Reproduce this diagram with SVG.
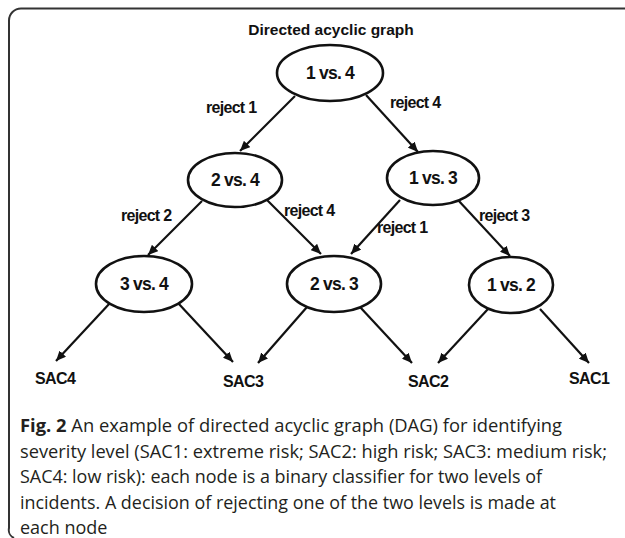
<svg xmlns="http://www.w3.org/2000/svg" width="625" height="538" viewBox="0 0 625 538">
  <defs>
    <marker id="arrow" markerUnits="userSpaceOnUse" markerWidth="11" markerHeight="9" refX="10" refY="4.5" orient="auto">
      <path d="M0,0 L10,4.5 L0,9 z" fill="#111"/>
    </marker>
    <style>
      .frame { fill: none; stroke: #333; stroke-width: 2; }
      .node ellipse { fill: #fff; stroke: #111; stroke-width: 2.6; }
      .node text { font-family: "Liberation Sans", Arial, sans-serif; font-weight: bold; font-size: 17.5px; fill: #111; text-anchor: middle; letter-spacing: -0.8px; }
      .edge { stroke: #111; stroke-width: 2.2; fill: none; marker-end: url(#arrow); }
      .lbl { font-family: "Liberation Sans", Arial, sans-serif; font-weight: bold; font-size: 16px; fill: #111; letter-spacing: -0.7px; }
      .title { font-family: "Liberation Sans", Arial, sans-serif; font-weight: bold; font-size: 15.5px; fill: #111; text-anchor: middle; }
      .sac { font-family: "Liberation Sans", Arial, sans-serif; font-weight: bold; font-size: 16px; fill: #111; letter-spacing: -0.6px; }
      .cap { font-family: "Open Sans", "Noto Sans", sans-serif; font-size: 18px; fill: #231f20; }
      .cap .b { font-weight: bold; }
    </style>
  </defs>

  <!-- figure frame: open on the right and bottom -->
  <path class="frame" d="M625,8.5 H21 A12,12 0 0 0 9,20.5 V528 A9,9 0 0 0 14,538"/>

  <text class="title" x="331" y="35">Directed acyclic graph</text>

  <!-- connectors -->
  <g id="connectors">
    <line class="edge" x1="295" y1="96" x2="240" y2="151"/>
    <line class="edge" x1="366" y1="95" x2="418" y2="152"/>
    <line class="edge" x1="202" y1="201" x2="148" y2="255"/>
    <line class="edge" x1="265" y1="198" x2="321" y2="254"/>
    <line class="edge" x1="400" y1="200" x2="351" y2="254"/>
    <line class="edge" x1="458" y1="200" x2="510" y2="256"/>
    <line class="edge" x1="110" y1="303" x2="56" y2="361"/>
    <line class="edge" x1="178" y1="303" x2="233" y2="362"/>
    <line class="edge" x1="307" y1="307" x2="258" y2="363"/>
    <line class="edge" x1="360" y1="307" x2="412" y2="363"/>
    <line class="edge" x1="488" y1="309" x2="438" y2="363"/>
    <line class="edge" x1="540" y1="309" x2="589" y2="363"/>
  </g>

  <!-- edge labels -->
  <g id="edge-labels">
    <text class="lbl" x="206" y="113">reject 1</text>
    <text class="lbl" x="390" y="108">reject 4</text>
    <text class="lbl" x="121" y="221">reject 2</text>
    <text class="lbl" x="284" y="216">reject 4</text>
    <text class="lbl" x="377" y="233">reject 1</text>
    <text class="lbl" x="479" y="221">reject 3</text>
  </g>

  <!-- classifier nodes -->
  <g id="n14" class="node"><ellipse cx="330" cy="73" rx="53" ry="28"/><text x="330" y="79">1 vs. 4</text></g>
  <g id="n24" class="node"><ellipse cx="235" cy="180" rx="47" ry="27"/><text x="235" y="186">2 vs. 4</text></g>
  <g id="n13" class="node"><ellipse cx="433" cy="178" rx="46" ry="27"/><text x="433" y="184">1 vs. 3</text></g>
  <g id="n34" class="node"><ellipse cx="144" cy="284" rx="48" ry="28"/><text x="144" y="290">3 vs. 4</text></g>
  <g id="n23" class="node"><ellipse cx="334" cy="284" rx="47" ry="28"/><text x="334" y="290">2 vs. 3</text></g>
  <g id="n12" class="node"><ellipse cx="511" cy="285" rx="42" ry="28"/><text x="511" y="291">1 vs. 2</text></g>

  <!-- outcome levels -->
  <g id="sac4"><text class="sac" x="35" y="384">SAC4</text></g>
  <g id="sac3"><text class="sac" x="223" y="387">SAC3</text></g>
  <g id="sac2"><text class="sac" x="408" y="387">SAC2</text></g>
  <g id="sac1"><text class="sac" x="569" y="384">SAC1</text></g>

  <!-- caption -->
  <g class="cap">
    <text x="20" y="432" textLength="542" lengthAdjust="spacingAndGlyphs"><tspan class="b">Fig. 2</tspan> An example of directed acyclic graph (DAG) for identifying</text>
    <text x="20" y="457.5" textLength="587" lengthAdjust="spacingAndGlyphs">severity level (SAC1: extreme risk; SAC2: high risk; SAC3: medium risk;</text>
    <text x="20" y="483" textLength="522" lengthAdjust="spacingAndGlyphs">SAC4: low risk): each node is a binary classifier for two levels of</text>
    <text x="20" y="508.5" textLength="536" lengthAdjust="spacingAndGlyphs">incidents. A decision of rejecting one of the two levels is made at</text>
    <text x="20" y="534">each node</text>
  </g>
</svg>
